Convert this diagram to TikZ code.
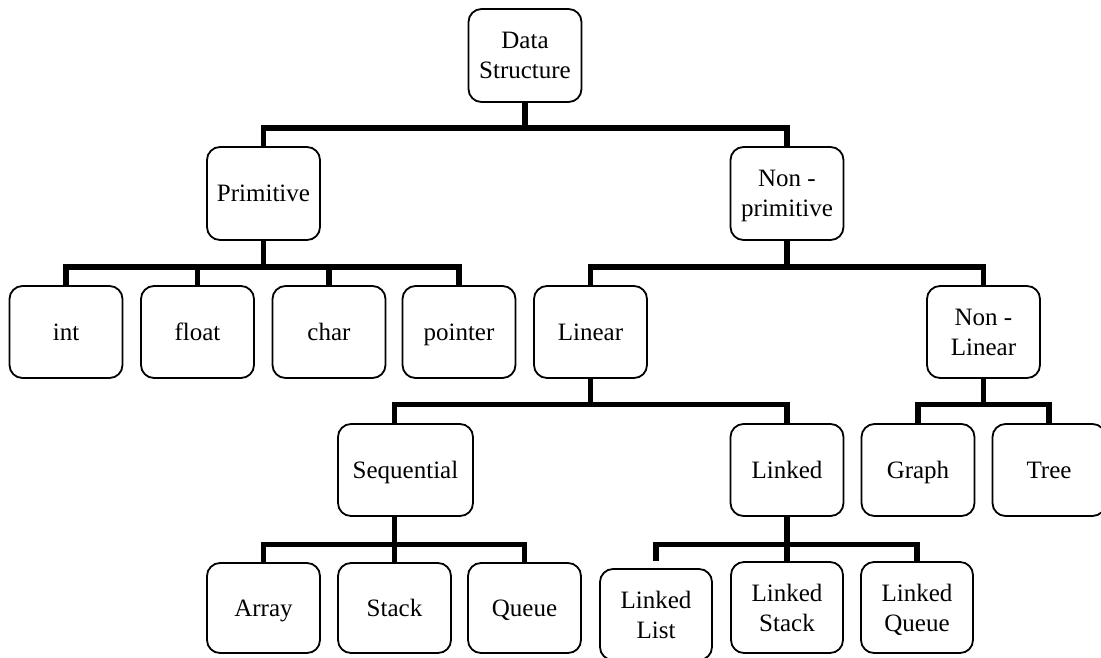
\documentclass[tikz,border=0pt]{standalone}
\usepackage{fontspec}
\setmainfont{Liberation Serif}
\tikzset{
  box/.style={draw, line width=1.8pt, rounded corners=13pt,
    minimum width=113pt, minimum height=92pt, inner sep=0pt,
    text depth=0pt, align=center, font=\fontsize{25}{30}\selectfont},
  conn/.style={line width=5.5pt},
}

\begin{document}
\begin{tikzpicture}[x=1pt, y=-1pt]
    \useasboundingbox (0,0) rectangle (1101,657);

    % coordinates of the bars
    \coordinate (b1) at (0,128);
    \coordinate (b2) at (0,267);
    \coordinate (b3) at (0,404.5);
    \coordinate (b4) at (0,544.5);

    % the boxes
    \node [box, minimum height=93pt] (ds) at (525,55.5) {Data\\Structure};
    \node [box, minimum height=93pt] (prim) at (263.5,193.5) {Primitive};
    \node [box, minimum height=93pt] (nonprim) at (787,193.5) {Non -\\primitive};

    \node [box] (int) at (66,332) {int};
    \node [box] (float) at (197.5,332) {float};
    \node [box] (char) at (329,332) {char};
    \node [box] (pointer) at (459,332) {pointer};
    \node [box] (linear) at (590.5,332) {Linear};
    \node [box] (nonlin) at (983.5,332) {Non -\\Linear};

    \node [box, minimum width=135pt] (seq) at (405.5,470) {Sequential};
    \node [box] (linked) at (787,470) {Linked};
    \node [box] (graph) at (918,470) {Graph};
    \node [box] (tree) at (1049,470) {Tree};

    \node [box, minimum height=90pt] (array) at (263.5,608) {Array};
    \node [box, minimum height=90pt] (stack) at (394.5,608) {Stack};
    \node [box, minimum height=90pt] (queue) at (524.5,608) {Queue};
    \node [box, minimum width=112pt, minimum height=91pt] (llist) at (656,614.5) {Linked\\List};
    \node [box, minimum width=112pt, minimum height=91pt] (lstack) at (787,607.5) {Linked\\Stack};
    \node [box, minimum width=112pt, minimum height=91pt] (lqueue) at (917,607.5) {Linked\\Queue};

    % connectors
    \draw [conn] (ds.south) -- (ds.south |- b1) -| (prim.north);
    \draw [conn] (ds.south |- b1) -| (nonprim.north);

    \draw [conn] (prim.south) -- (prim.south |- b2) -| (int.north);
    \draw [conn] (prim.south |- b2) -| (float.north);
    \draw [conn] (prim.south |- b2) -| (char.north);
    \draw [conn] (prim.south |- b2) -| (pointer.north);

    \draw [conn] (nonprim.south) -- (nonprim.south |- b2) -| (linear.north);
    \draw [conn] (nonprim.south |- b2) -| (nonlin.north);

    \draw [conn] (linear.south) -- (linear.south |- b3) -| (seq.north -| stack.north);
    \draw [conn] (linear.south |- b3) -| (linked.north);

    \draw [conn] (nonlin.south) -- (nonlin.south |- b3) -| (graph.north);
    \draw [conn] (nonlin.south |- b3) -| (tree.north);

    \draw [conn] (seq.south -| stack.north) -- (stack.north);
    \draw [conn] (stack.north |- b4) -| (array.north);
    \draw [conn] (stack.north |- b4) -| (queue.north);

    \draw [conn] (linked.south) -- (lstack.north);
    \draw [conn, shorten >=7pt] (lstack.north |- b4) -| (llist.north);
    \draw [conn] (lstack.north |- b4) -| (lqueue.north);
\end{tikzpicture}
\end{document}
